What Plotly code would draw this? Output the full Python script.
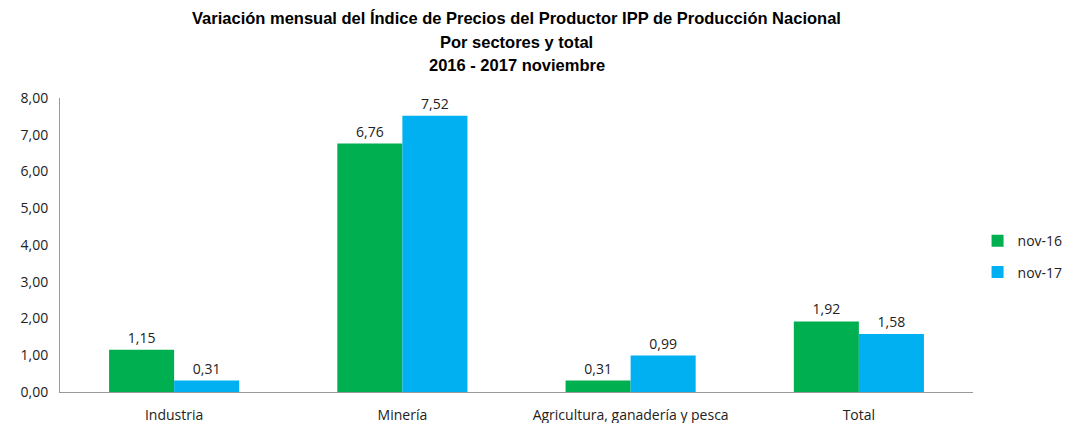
import plotly.graph_objects as go

categories = ["Industria", "Minería", "Agricultura, ganadería y pesca", "Total"]
nov16 = [1.15, 6.76, 0.31, 1.92]
nov17 = [0.31, 7.52, 0.99, 1.58]
series_names = ["nov-16", "nov-17"]
colors = ["#00B050", "#00B0F0"]
title_lines = [
    "Variación mensual del Índice de Precios del Productor IPP de Producción Nacional",
    "Por sectores y total",
    "2016 - 2017 noviembre",
]

fig = go.Figure()
for name, vals, col in zip(series_names, [nov16, nov17], colors):
    fig.add_trace(go.Bar(
        x=categories, y=vals, name=name, marker_color=col,
        marker_line_width=0, legendgroup=name,
        texttemplate="%{y:.2f}", textposition="outside",
        textfont=dict(size=14, color="#222222", family="Open Sans"),
        cliponaxis=False,
    ))

H_PLOT = 294.0
BOTTOM = 392.0
for line, ypix in zip(title_lines, [18, 42, 65]):
    fig.add_annotation(
        text=line, xref="paper", yref="paper", x=0.5, xanchor="center",
        y=(BOTTOM - ypix) / H_PLOT, yanchor="middle", showarrow=False,
        font=dict(family="Liberation Sans", size=16.5, color="black", weight="bold"),
    )

fig.update_layout(
    width=1070, height=423,
    barmode="group", bargap=0.43, bargroupgap=0,
    separators=",.",
    plot_bgcolor="white", paper_bgcolor="white",
    margin=dict(l=60, r=97, t=98, b=31, autoexpand=False),
    font=dict(family="Open Sans", size=14, color="#222222"),
    legend=dict(x=1.005, y=0.46, xanchor="left", yanchor="middle",
                font=dict(size=14), tracegroupgap=10, traceorder="grouped",
                itemwidth=30),
    showlegend=True,
)
fig.update_yaxes(range=[0, 8], dtick=1, tickformat=".2f", showgrid=False,
                 showline=True, linecolor="#999999", linewidth=1,
                 ticks="", zeroline=False, ticklabelstandoff=8)
fig.update_xaxes(showline=True, linecolor="#999999", linewidth=1, ticks="",
                 showgrid=False, ticklabelstandoff=10)

fig.write_html("out.html", config={"displayModeBar": False},
               post_script="document.body.style.margin='0';")
